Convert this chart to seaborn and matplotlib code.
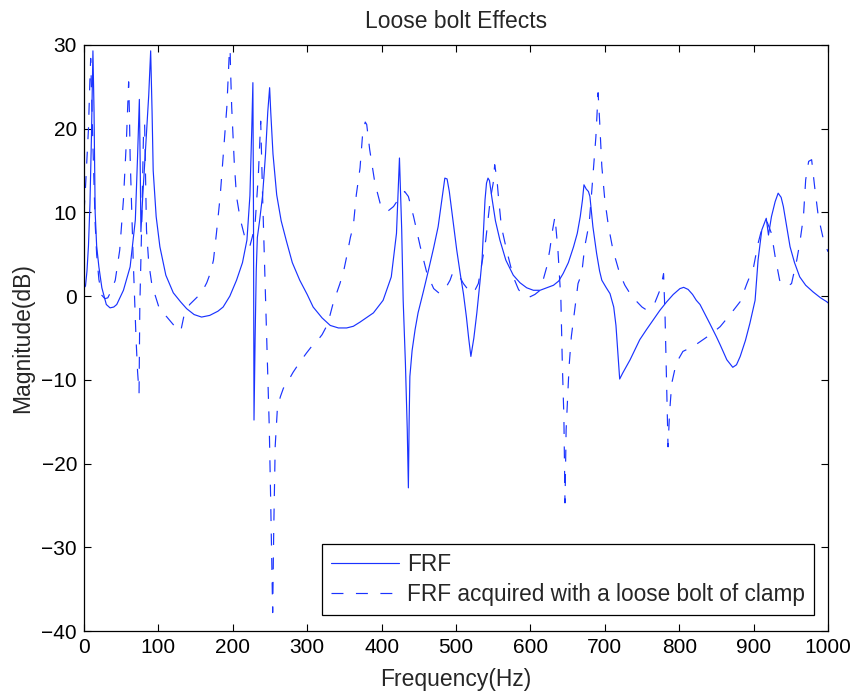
import matplotlib
matplotlib.use("Agg")
import matplotlib.pyplot as plt
import seaborn as sns
import numpy as np

# ---- data ----
freq_frf = [0, 2, 4, 6, 8, 10, 12, 13.5, 15, 17, 20, 24, 30, 35, 40, 44, 53, 62, 69, 72,
            74.4, 75.5, 76.5, 79, 83, 87, 89.6, 91.5, 93, 97, 102, 110, 120, 130, 138, 148,
            158, 169, 180, 187, 196, 205, 213, 219, 223, 225.5, 227, 227.8, 228.5, 230,
            231.5, 233, 236, 240, 244, 247, 249.5, 251, 254, 259, 265, 272, 280, 290, 300,
            308, 320, 331, 342, 353, 362, 371, 389, 402, 413, 420, 424, 427, 429, 432,
            434.5, 436, 437, 438, 441, 445, 449, 456, 463, 470, 476, 481, 485, 488, 491,
            496, 501, 506, 510, 514, 517, 520, 524, 528, 532, 535, 537, 539, 541, 543,
            545, 548, 553, 559, 567, 577, 586, 595, 604, 613, 622, 631, 638, 644, 651,
            658, 663, 667, 670, 672, 675, 678, 680, 684, 689, 693, 696, 702, 707, 712,
            715, 717, 720, 724, 734, 747, 756, 765, 774, 783, 792, 801, 806, 812, 818,
            823, 828, 835, 841, 850, 855, 864, 872, 877, 882, 889, 895, 902, 906, 911,
            917, 920, 924, 929, 933, 937, 940, 945, 949, 955, 962, 970, 980, 990, 998, 1000]
mag_frf = [1.0, 1.2, 3.0, 6.0, 11.0, 19.0, 29.3, 22, 10, 6, 3.5, 1.0, -1.0, -1.4, -1.3, -1.0,
           0.7, 3.5, 9.1, 16.7, 23.5, 16, 7.7, 12, 18, 24, 29.3, 22, 15, 9.5, 5.9, 2.5, 0.4,
           -0.7, -1.5, -2.2, -2.5, -2.3, -1.8, -1.3, 0.0, 1.9, 4.0, 6.7, 12, 20, 25.5, 10,
           -14.8, -5, 3.0, 7, 9, 12, 17, 22, 24.9, 22, 17, 12.1, 9, 6.6, 4.0, 1.9, 0.2, -1.3,
           -2.6, -3.5, -3.8, -3.8, -3.6, -3.1, -2.0, -0.5, 2.3, 7.5, 16.5, 8, -0.5, -8,
           -16, -22.9, -15, -9.6, -6.5, -4, -2.0, 0.5, 3.1, 5.8, 8.3, 11.5, 14.1, 14.0,
           12.5, 9, 5.5, 2.5, 0.3, -2.5, -5, -7.2, -5, -2.0, 1.5, 4.3, 8, 11.5, 13.5, 14.1,
           13.8, 11.9, 9, 6.7, 4.3, 2.5, 1.6, 1.0, 0.7, 0.7, 1.0, 1.3, 1.8, 2.7, 4.0, 5.9,
           7.5, 9.5, 11.5, 13.3, 12.8, 12.5, 11.9, 8.3, 5.1, 3.0, 1.9, 1.0, 0.3, -1.3, -3.5,
           -6.0, -9.9, -9.2, -7.6, -5.2, -4.0, -2.85, -1.7, -0.7, 0.2, 0.9, 1.05, 0.8, 0.2,
           -0.5, -1.0, -2.2, -3.25, -4.85, -5.8, -7.6, -8.5, -8.2, -7.2, -5.3, -3.25, -0.5,
           4.3, 7.9, 9.3, 7.3, 9.5, 11.3, 12.3, 11.8, 10.7, 8.0, 5.9, 4.0, 2.3, 1.3, 0.5,
           -0.2, -0.65, -0.8]

freq_loose = [0, 2, 4, 6, 8, 9, 10, 12, 14, 15, 17, 20, 24, 28, 32, 37, 42, 48, 53, 57, 60,
              61, 62, 66, 70, 72, 74, 75, 77.5, 80, 81.5, 84, 87, 91, 96, 102, 111, 120, 126,
              130, 134, 142, 150, 158, 165, 170, 174, 178, 183, 187, 192, 195, 196, 197,
              198.5, 202, 205, 210, 216, 220, 223, 226, 229.8, 234.3, 237.5, 240, 243, 246,
              249, 251, 253.6, 255, 257, 260, 264, 268, 274, 281, 290, 299, 306, 313, 320,
              326, 330, 335, 340, 344, 349, 353, 358, 362, 366, 371, 374.6, 378, 380, 384,
              391, 398, 402, 409, 416, 425, 431, 436, 443, 452, 461, 470, 478, 485, 492,
              496, 500, 505, 510, 516, 521, 526, 530, 534, 540, 546, 550, 552, 555, 557,
              561, 568, 577, 584, 590, 599, 606, 613, 617, 622, 626, 630, 633, 637, 641,
              643, 645, 646.5, 648, 652, 655, 660, 664, 669, 673, 679, 682, 685, 688, 691,
              693, 696, 700, 705, 711, 720, 727, 734, 743, 750, 756, 762, 767, 774, 777,
              779, 781, 783, 785, 787, 790, 796, 805, 812, 819, 828, 841, 855, 868, 882,
              891, 900, 906, 913, 918, 924, 929, 935, 940, 946, 951, 958, 962, 967, 970,
              974, 978, 982, 987, 994, 1000]
mag_loose = [10, 13, 16.5, 20, 26, 28.4, 25, 18, 12, 8.7, 5, 2, 0.1, -0.3, -0.2, 0.7, 1.9,
             5.5, 11.5, 18.6, 25.6, 22, 16.7, 4.7, -5.2, -9, -11.6, -1.3, 8.3, 19.5, 20.5,
             7.9, 4, 1.5, 0, -1.7, -2.45, -3.4, -4.0, -4.2, -2.5, -1.0, -0.3, 0.4, 1.6, 2.8,
             4.3, 7.5, 11.9, 16.7, 22.6, 28.5, 31, 27, 22.6, 15.9, 11.9, 9.2, 7.1, 6.3, 6.0,
             7, 8.4, 14.4, 20.9, 12.1, 2.9, -6.4, -15.6, -24.8, -37.8, -28, -17.9, -13.3,
             -12, -11.0, -10.2, -9.1, -7.9, -6.8, -6.0, -5.4, -4.6, -3.6, -2.5, -0.8, 0.5,
             1.5, 3.0, 4.7, 7, 8.4, 12.1, 15.3, 19.5, 20.8, 20.5, 17.5, 13.5, 11.1, 10.3,
             10.2, 10.7, 11.9, 12.5, 11.9, 9.5, 5.9, 2.7, 0.9, 0.3, 0.8, 1.9, 2.9, 2.7,
             2.3, 1.5, 0.8, 0.3, 0.8, 1.5, 3.5, 6.7, 11.5, 13.5, 15.7, 14, 11.9, 8.3, 5.5,
             2.3, 0.8, 0.1, -0.1, 0.2, 0.7, 1.9, 3.5, 5.5, 8, 9.5, 5.5, -0.5, -8.4, -14.4,
             -24.7, -16, -8.4, -4.85, -1.3, 1.5, 2.7, 5.9, 8.7, 12, 15.5, 19, 24.3, 21, 15.5,
             11.5, 8.3, 5.5, 2.7, 1.3, 0.3, -0.65, -1.3, -1.65, -1.3, -0.85, 0.7, 1.8, 2.7,
             -2.45, -10.4, -18.0, -14, -10.4, -8.0, -6.6, -6.3, -6.0, -5.45, -4.65, -3.65,
             -2.25, -0.65, 1.5, 3.5, 6.3, 8.7, 8.9, 7.5, 4.7, 1.9, 1.3, 1.2, 1.5, 4.3, 6.3,
             9.5, 13.9, 16.1, 16.3, 13.1, 9.5, 6.7, 5.3]

series_labels = ["FRF", "FRF acquired with a loose bolt of clamp"]
title_text = "Loose bolt Effects"
xlabel_text = "Frequency(Hz)"
ylabel_text = "Magnitude(dB)"
xticks = list(range(0, 1001, 100))
yticks = list(range(-40, 31, 10))

# ---- style ----
sns.set_style("ticks")
plt.rcParams["font.family"] = ["Liberation Sans", "DejaVu Sans"]
plt.rcParams["lines.scale_dashes"] = False
plt.rcParams["axes.unicode_minus"] = True

fig = plt.figure(figsize=(8.61, 6.96), dpi=100)
ax = fig.add_axes([84 / 861, 1 - 631 / 696, (828 - 84) / 861, (631 - 45) / 696])

line_color = "#1a33ff"
sns.lineplot(x=freq_frf, y=mag_frf, ax=ax, color=line_color, linewidth=0.85,
             label=series_labels[0], sort=False, estimator=None)
sns.lineplot(x=freq_loose, y=mag_loose, ax=ax, color=line_color, linewidth=0.85,
             label=series_labels[1], sort=False, estimator=None)
ax.lines[1].set_dashes([8.6, 9.0])

ax.set_xlim(0, 1000)
ax.set_ylim(-40, 30)
ax.set_xticks(xticks)
ax.set_yticks(yticks)
ax.tick_params(direction="in", length=5, width=0.8, top=True, right=True,
               labelsize=15, colors="black", pad=5)
for s in ax.spines.values():
    s.set_visible(True)
    s.set_linewidth(0.9)
    s.set_color("black")

ax.set_title(title_text, fontsize=16.5, pad=12.5)
ax.set_xlabel(xlabel_text, fontsize=16.5, labelpad=8)
ax.set_ylabel(ylabel_text, fontsize=16.5, labelpad=5)

leg = ax.legend(loc="lower right", bbox_to_anchor=(0.9815, 0.027), borderaxespad=0,
                fontsize=16.3, frameon=True, fancybox=False, framealpha=1,
                edgecolor="black", handlelength=3.0, handletextpad=0.35,
                labelspacing=0.3, borderpad=0.4)
leg.get_frame().set_linewidth(0.9)
for h in leg.get_lines():
    h.set_linewidth(0.85)

fig.savefig("out.png", dpi=100)
